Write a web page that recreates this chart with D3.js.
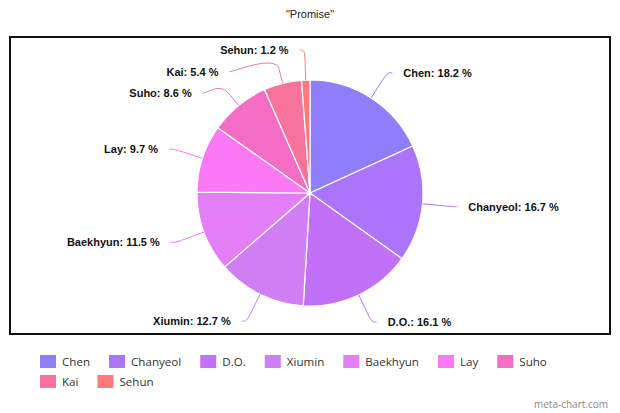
<!DOCTYPE html>
<html>
<head>
<meta charset="utf-8">
<script src="https://cdn.jsdelivr.net/npm/d3@7"></script>
<style>
  body { margin: 0; background: #fff; }
</style>
</head>
<body>
<script>
// chart data
const title = '"Promise"';
const members = ["Chen", "Chanyeol", "D.O.", "Xiumin", "Baekhyun", "Lay", "Suho", "Kai", "Sehun"];
const shares = [18.2, 16.7, 16.1, 12.7, 11.5, 9.7, 8.6, 5.4, 1.2];
const colors = ["#8f7efc", "#ab74fb", "#c170f7", "#cf7ef3", "#e47ef6", "#fb79f5", "#f46dc4", "#f8739b", "#fc7a7a"];

const w = 620, h = 413;
const cx = 310, cy = 193, r = 113;
const labelDist = 30;

const svg = d3.select("body").append("svg").attr("width", w).attr("height", h);

// title
svg.append("text")
  .attr("x", w / 2).attr("y", 18)
  .attr("text-anchor", "middle")
  .style("font-family", "Arial, 'Liberation Sans', sans-serif")
  .style("font-size", "11px")
  .style("fill", "#222")
  .text(title);

// frame
svg.append("rect")
  .attr("x", 10).attr("y", 37).attr("width", 600).attr("height", 297)
  .attr("fill", "none").attr("stroke", "#111").attr("stroke-width", 2);

const data = members.map((m, i) => ({ name: m, value: shares[i], color: colors[i] }));

const pie = d3.pie().sort(null).value((d) => d.value);
const arcs = pie(data);
const arc = d3.arc().innerRadius(0).outerRadius(r);

const g = svg.append("g").attr("transform", "translate(" + cx + "," + cy + ")");

g.selectAll("path.slice")
  .data(arcs)
  .enter()
  .append("path")
  .attr("class", "slice")
  .attr("d", arc)
  .attr("fill", (d) => d.data.color)
  .attr("stroke", "#fff")
  .attr("stroke-width", 1.2);

// label positions: natural y on outer circle, pushed down to avoid overlaps
const R = r + labelDist;
arcs.forEach((d) => {
  d.mid = (d.startAngle + d.endAngle) / 2;
  d.right = d.mid < Math.PI;
  d.ly = -R * Math.cos(d.mid);
});

const spacing = 21.5;
["right", "left"].forEach((side) => {
  const list = arcs.filter((d) => (side === "right") === d.right).sort((a, b) => a.ly - b.ly);
  for (let i = 1; i < list.length; i++) {
    if (list[i].ly < list[i - 1].ly + spacing) list[i].ly = list[i - 1].ly + spacing;
  }
});

arcs.forEach((d) => {
  const dx = Math.sqrt(Math.max(0, R * R - d.ly * d.ly));
  d.lx = d.right ? dx : -dx;
});

// soft connectors
g.selectAll("path.connector")
  .data(arcs)
  .enter()
  .append("path")
  .attr("class", "connector")
  .attr("fill", "none")
  .attr("stroke", (d) => d.data.color)
  .attr("stroke-width", 1)
  .attr("d", (d) => {
    const ex = r * Math.sin(d.mid), ey = -r * Math.cos(d.mid);
    const bx = (r + 15) * Math.sin(d.mid), by = -(r + 15) * Math.cos(d.mid);
    const sx = d.lx + (d.right ? 5 : -5);
    const p = d3.path();
    p.moveTo(sx, d.ly);
    p.bezierCurveTo(d.lx, d.ly, 2 * bx - ex, 2 * by - ey, bx, by);
    p.lineTo(ex, ey);
    return p.toString();
  });

g.selectAll("text.label")
  .data(arcs)
  .enter()
  .append("text")
  .attr("class", "label")
  .attr("x", (d) => d.lx + (d.right ? 16 : -16))
  .attr("y", (d) => d.ly + 4)
  .attr("text-anchor", (d) => (d.right ? "start" : "end"))
  .style("font-family", "Arial, 'Liberation Sans', sans-serif")
  .style("font-size", "11px")
  .style("font-weight", "bold")
  .style("fill", "#111")
  .text((d) => d.data.name + ": " + d.data.value + " %");

// legend, flowing in rows
const legend = svg.append("g").attr("class", "legend");
const maxX = 585;
let lx = 40, ly = 355;
data.forEach((d) => {
  const item = legend.append("g");
  item.append("rect")
    .attr("width", 16).attr("height", 13)
    .attr("fill", d.color);
  const t = item.append("text")
    .attr("x", 22).attr("y", 11)
    .style("font-family", "'Open Sans', sans-serif")
    .style("font-size", "11.6px")
    .style("fill", "#333")
    .text(d.name);
  const iw = 22 + t.node().getComputedTextLength();
  if (lx + iw > maxX) { lx = 40; ly += 20; }
  item.attr("transform", "translate(" + lx + "," + ly + ")");
  lx += iw + 19;
});

// watermark
svg.append("text")
  .attr("x", 608).attr("y", 408)
  .attr("text-anchor", "end")
  .style("font-family", "'Open Sans', sans-serif")
  .style("font-size", "10px")
  .style("fill", "#888")
  .text("meta-chart.com");
</script>
</body>
</html>
